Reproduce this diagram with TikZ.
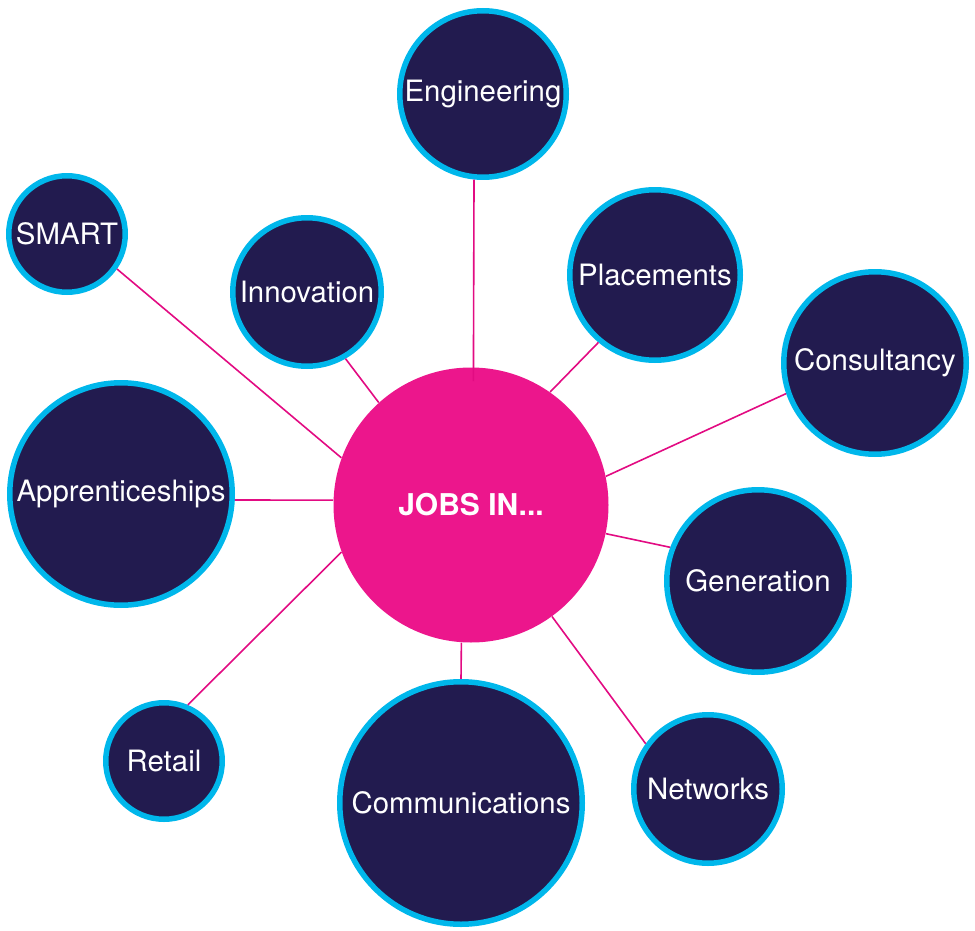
\documentclass[tikz,border=0pt]{standalone}
\usepackage{fontspec}
\setmainfont{TeX Gyre Heros}
\definecolor{navy}{HTML}{221B4F}
\definecolor{skyblue}{HTML}{00B7EB}
\definecolor{jobspink}{HTML}{EC168C}
\definecolor{linkpink}{HTML}{E20B82}

\begin{document}
\begin{tikzpicture}[line cap=round,line join=round,x=0.5pt,y=-0.5pt,
		bubble/.style={circle,draw=skyblue,fill=navy,line width=2.75pt,inner sep=0pt,text=white,font=\fontsize{14.7}{17}\selectfont},
		hub/.style={circle,fill=jobspink,inner sep=0pt,minimum size=137.5pt,text=white,font=\fontsize{15}{18}\selectfont\bfseries},
		link/.style={draw=linkpink,line width=0.8pt,line cap=butt}]
		\useasboundingbox (0,0) rectangle (975,931);
		\node[hub] (jobs) at (471,505) {JOBS IN...};
		\node[bubble,minimum size=83.25pt] (engineering) at (483,94) {Engineering};
		\node[bubble,minimum size=58.25pt] (smart) at (67,234) {SMART};
		\node[bubble,minimum size=74.25pt] (innovation) at (307,292) {Innovation};
		\node[bubble,minimum size=85.25pt] (placements) at (655,275) {Placements};
		\node[bubble,minimum size=91.25pt] (consultancy) at (875,363) {Consultancy};
		\node[bubble,minimum size=111.25pt] (apprenticeships) at (121,494) {Apprenticeships};
		\node[bubble,minimum size=91.25pt] (generation) at (758,581) {Generation};
		\node[bubble,minimum size=58.25pt] (retail) at (164,761) {Retail};
		\node[bubble,minimum size=121.25pt] (communications) at (461,803) {Communications};
		\node[bubble,minimum size=74.25pt] (networks) at (708,789) {Networks};
		\draw[link] (engineering.264) -- ([yshift=-7pt]jobs.89);
		\draw[link] (jobs.132) -- (innovation.-60);
		\draw[link] (jobs.160) -- (smart.-35);
		\draw[link] (jobs.178) -- (apprenticeships.-3.5);
		\draw[link] (jobs.200) -- (retail.67);
		\draw[link] (jobs.266) -- (communications.90);
		\draw[link] (jobs.306) -- (networks.144);
		\draw[link] (jobs.-12) -- (generation.159);
		\draw[link] (jobs.12.6) -- (consultancy.199);
		\draw[link] (jobs.55.6) -- (placements.230);
	\end{tikzpicture}
\end{document}
